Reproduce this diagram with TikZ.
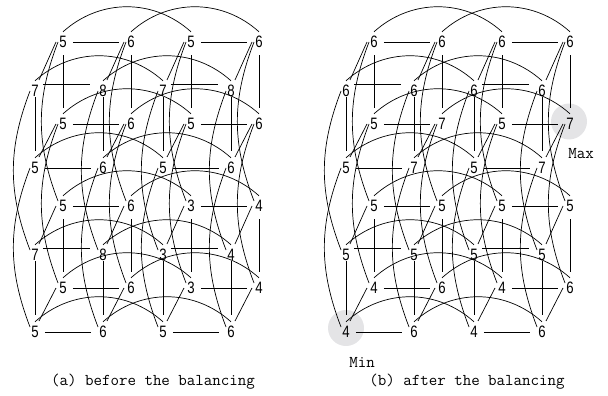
\documentclass[tikz,border=0pt]{standalone}
\usepackage{fontspec}
\newfontfamily\digitfont[FakeStretch=0.8]{Liberation Sans}
\usetikzlibrary{calc,backgrounds}
\definecolor{markgrey}{RGB}{228,228,230}

\begin{document}
\begin{tikzpicture}[x=1pt,y=-1pt,
  val/.style={font=\digitfont\fontsize{16.5}{16.5}\selectfont, inner sep=0pt,
    minimum width=7pt, minimum height=12pt},
  capt/.style={font=\ttfamily\fontsize{16.5}{16.5}\selectfont, inner sep=0pt, anchor=base},
  edge/.style={line width=0.7pt, black},
  hshort/.style={shorten <=6pt, shorten >=8pt},
  backvert/.style={shorten <=7pt, shorten >=10pt},
  frontvert/.style={shorten <=0pt, shorten >=11pt},
]
\useasboundingbox (0,0) rectangle (608,396);

% vertex values of the 5-cube, row k = 4R + 2I + Z, column m = 2C + J
\foreach \P/\sx/\rows in {
  a/0/{{5,6,5,6},{7,8,7,8},{5,6,5,6},{5,6,5,6},{5,6,3,4},{7,8,3,4},{5,6,3,4},{5,6,5,6}},
  b/311/{{6,6,6,6},{6,6,6,6},{5,7,5,7},{5,7,5,7},{5,5,5,5},{5,5,5,5},{4,6,4,6},{4,6,4,6}}} {
  \foreach \vals [count=\k from 0] in \rows {
    \foreach \v [count=\m from 0] in \vals {
      \pgfmathsetmacro\yy{{42,91,124,168,206,255,288,332}[\k]}
      \pgfmathsetmacro\xx{\sx + {63,131,191,259}[\m] - 28*mod(\k,2)}
      \node[val] (\P-\k-\m) at (\xx,\yy) {\v};
    }
  }
}

\foreach \P in {a,b} {
  % horizontal edges of each face
  \foreach \k in {0,2,3,4,6,7} {
    \foreach \m in {0,2} {
      \pgfmathtruncatemacro\n{\m+1}
      \draw[edge,hshort] (\P-\k-\m.east) -- (\P-\k-\n.west);
    }
  }
  \foreach \k in {1,5} {
    \foreach \m in {0,2} {
      \pgfmathtruncatemacro\n{\m+1}
      \draw[edge,shorten <=4pt,shorten >=9pt] ([yshift=7pt]\P-\k-\m.east) -- ([yshift=7pt]\P-\k-\n.west);
    }
  }
  % vertical edges of each face
  \foreach \k in {0,4} {
    \foreach \m in {0,1,2,3} {
      \pgfmathtruncatemacro\n{\k+2}
      \draw[edge,backvert] (\P-\k-\m.south) -- (\P-\n-\m.north);
    }
  }
  \foreach \k in {1,5} {
    \foreach \m in {0,1,2,3} {
      \pgfmathtruncatemacro\n{\k+2}
      \draw[edge,frontvert] (\P-\k-\m.south) -- (\P-\n-\m.north);
    }
  }
  % back face to front face
  \foreach \k in {0,2,4,6} {
    \foreach \m in {0,1,2,3} {
      \pgfmathtruncatemacro\n{\k+1}
      \draw[edge] ($(\P-\k-\m.center)+(-7,0)$) -- ($(\P-\n-\m.center)+(4,-11)$);
    }
  }
  % arcs between the left and right cubes
  \foreach \k in {0,...,7} {
    \foreach \m in {0,1} {
      \pgfmathtruncatemacro\n{\m+2}
      \draw[edge] ([yshift=4pt]\P-\k-\m.north) to[bend left=42] ([yshift=4pt]\P-\k-\n.north);
    }
  }
  % arcs between the upper and lower cubes
  \foreach \k in {0,...,3} {
    \foreach \m in {0,1,2,3} {
      \pgfmathtruncatemacro\n{\k+4}
      \draw[edge] ($(\P-\k-\m.center)+(-5,0)$) to[bend right=21] ($(\P-\n-\m.center)+(-5,-5)$);
    }
  }
}

% extreme values
\begin{scope}[on background layer]
  \fill[markgrey] ($(b-2-3.center)+(-1,-2.5)$) circle (18);
  \fill[markgrey] ($(b-7-0.center)+(0,-4)$) circle (18);
\end{scope}
\node[capt] (maxlabel) at (581,158) {Max};
\node[capt] (minlabel) at (362,367) {Min};

\node[capt] (capa) at (153,385) {(a) before the balancing};
\node[capt] (capb) at (467,385) {(b) after the balancing};
\end{tikzpicture}
\end{document}
